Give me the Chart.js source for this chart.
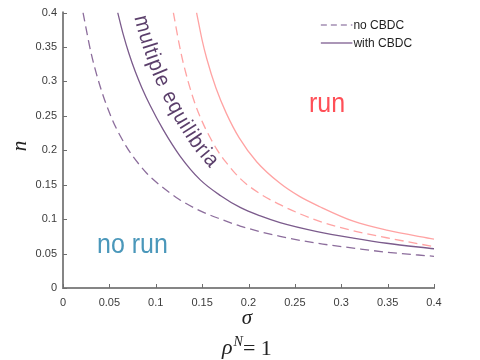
<!DOCTYPE html>
<html>
<head>
<meta charset="utf-8">
<script src="https://cdn.jsdelivr.net/npm/chart.js@4.4.1/dist/chart.umd.min.js"></script>
<style>
  html, body { margin: 0; padding: 0; background: #ffffff; }
  #wrap { position: relative; width: 480px; height: 360px; }
</style>
</head>
<body>
<div id="wrap"><canvas id="c" width="480" height="360"></canvas></div>
<script>
// ---- data ----
// purple dashed: boundary without CBDC (no run / multiple equilibria)
const lowNoCBDC_sigma = [0.0216, 0.030, 0.040, 0.053, 0.068, 0.075, 0.090, 0.103, 0.125, 0.148, 0.170, 0.191, 0.234, 0.274, 0.313, 0.349, 0.400];
const lowNoCBDC_n     = [0.400, 0.343, 0.293, 0.245, 0.206, 0.192, 0.167, 0.151, 0.129, 0.112, 0.100, 0.090, 0.075, 0.065, 0.058, 0.052, 0.046];
// purple solid: boundary with CBDC
const lowCBDC_sigma = [0.059, 0.065, 0.071, 0.078, 0.085, 0.094, 0.108, 0.126, 0.148, 0.170, 0.191, 0.212, 0.234, 0.274, 0.313, 0.349, 0.400];
const lowCBDC_n     = [0.400, 0.368, 0.341, 0.314, 0.291, 0.265, 0.230, 0.192, 0.157, 0.134, 0.117, 0.105, 0.095, 0.082, 0.0725, 0.065, 0.057];
// pink dashed: run boundary without CBDC
const highNoCBDC_sigma = [0.119, 0.125, 0.130, 0.141, 0.150, 0.158, 0.166, 0.175, 0.191, 0.210, 0.234, 0.255, 0.276, 0.313, 0.349, 0.400];
const highNoCBDC_n     = [0.400, 0.356, 0.325, 0.273, 0.242, 0.220, 0.201, 0.184, 0.159, 0.139, 0.121, 0.108, 0.097, 0.083, 0.073, 0.060];
// pink solid: run boundary with CBDC
const highCBDC_sigma = [0.144, 0.150, 0.155, 0.165, 0.176, 0.190, 0.209, 0.234, 0.255, 0.277, 0.313, 0.349, 0.400];
const highCBDC_n     = [0.400, 0.360, 0.333, 0.290, 0.254, 0.218, 0.183, 0.152, 0.133, 0.118, 0.097, 0.084, 0.071];

const xTickValues = [0, 0.05, 0.1, 0.15, 0.2, 0.25, 0.3, 0.35, 0.4];
const xTickLabels = ['0', '0.05', '0.1', '0.15', '0.2', '0.25', '0.3', '0.35', '0.4'];
const yTickValues = [0, 0.05, 0.1, 0.15, 0.2, 0.25, 0.3, 0.35, 0.4];
const yTickLabels = ['0', '0.05', '0.1', '0.15', '0.2', '0.25', '0.3', '0.35', '0.4'];

const legendLabels = ['no CBDC', 'with CBDC'];
const regionLabels = { run: 'run', noRun: 'no run', multiple: 'multiple equilibria' };
const xTitle = 'σ';
const yTitle = 'n';

function pts(xs, ys) { return xs.map((x, i) => ({ x: x, y: ys[i] })); }

const PURPLE = '#7b5b8c';
const PURPLE_D = '#8c6d9c';
const PINK = '#ffa3a3';
const AXIS = '#858585';

const overlay = {
  id: 'overlay',
  afterDraw(chart) {
    const ctx = chart.ctx;
    const xs = chart.scales.x, ys = chart.scales.y;
    const ca = chart.chartArea;
    ctx.save();
    // axes lines
    ctx.strokeStyle = AXIS;
    ctx.lineWidth = 2;
    ctx.beginPath();
    ctx.moveTo(ca.left, ca.top - 1);
    ctx.lineTo(ca.left, ca.bottom);
    ctx.lineTo(ca.right + 1, ca.bottom);
    ctx.stroke();
    // inward ticks
    ctx.lineWidth = 1;
    ctx.strokeStyle = '#6e6e6e';
    xTickValues.forEach(v => {
      const px = Math.round(xs.getPixelForValue(v)) + 0.5;
      ctx.beginPath(); ctx.moveTo(px, ca.bottom); ctx.lineTo(px, ca.bottom - 4); ctx.stroke();
    });
    yTickValues.forEach(v => {
      const py = Math.round(ys.getPixelForValue(v)) + 0.5;
      ctx.beginPath(); ctx.moveTo(ca.left, py); ctx.lineTo(ca.left + 4, py); ctx.stroke();
    });

    // legend (top right inside plot)
    const lx0 = xs.getPixelForValue(0.278), lx1 = xs.getPixelForValue(0.312);
    const ly = [25, 43];
    ctx.lineWidth = 1.3;
    ctx.strokeStyle = '#a48fb4';
    ctx.setLineDash([6, 4]);
    ctx.beginPath(); ctx.moveTo(lx0, ly[0]); ctx.lineTo(lx1, ly[0]); ctx.stroke();
    ctx.setLineDash([]);
    ctx.strokeStyle = '#8f739f';
    ctx.beginPath(); ctx.moveTo(lx0, ly[1]); ctx.lineTo(lx1, ly[1]); ctx.stroke();
    ctx.fillStyle = '#1e1e1e';
    ctx.font = '12px "Liberation Sans", Arial, sans-serif';
    ctx.textBaseline = 'middle';
    ctx.textAlign = 'left';
    ctx.fillText(legendLabels[0], lx1 + 1, ly[0] + 1);
    ctx.fillText(legendLabels[1], lx1 + 1, ly[1] + 1);

    // region labels
    ctx.textBaseline = 'alphabetic';
    ctx.font = '25px "Liberation Sans", Arial, sans-serif';
    ctx.fillStyle = '#ff4f57';
    ctx.save(); ctx.translate(309, 112); ctx.scale(1, 1.12); ctx.fillText(regionLabels.run, 0, 0); ctx.restore();
    ctx.fillStyle = '#4a97ba';
    ctx.save(); ctx.translate(97, 253); ctx.scale(1, 1.12); ctx.fillText(regionLabels.noRun, 0, 0); ctx.restore();

    // "multiple equilibria" along the with-CBDC curve
    const meta = chart.getDatasetMeta(1);
    const base = meta.data.map(p => ({ x: p.x, y: p.y }));
    const off = 15;
    const path = [];
    for (let i = 0; i < base.length; i++) {
      const a = base[Math.max(0, i - 1)], b = base[Math.min(base.length - 1, i + 1)];
      const dx = b.x - a.x, dy = b.y - a.y, L = Math.hypot(dx, dy);
      path.push({ x: base[i].x + off * dy / L, y: base[i].y - off * dx / L });
    }
    const d0x = path[1].x - path[0].x, d0y = path[1].y - path[0].y, l0 = Math.hypot(d0x, d0y);
    path.unshift({ x: path[0].x - 30 * d0x / l0, y: path[0].y - 30 * d0y / l0 });
    let acc = 0; path[0].s = 0;
    for (let i = 1; i < path.length; i++) { acc += Math.hypot(path[i].x - path[i-1].x, path[i].y - path[i-1].y); path[i].s = acc; }
    function at(s) {
      for (let i = 1; i < path.length; i++) {
        if (path[i].s >= s) {
          const a = path[i-1], b = path[i], t = (s - a.s) / (b.s - a.s);
          return { x: a.x + t * (b.x - a.x), y: a.y + t * (b.y - a.y) };
        }
      }
      return path[path.length - 1];
    }
    let s0 = 0;
    for (let s = 0; s < acc; s += 0.5) { if (at(s).y >= 17) { s0 = s; break; } }
    ctx.font = '20px "Liberation Sans", Arial, sans-serif';
    ctx.fillStyle = '#5b3f6b';
    ctx.textAlign = 'center';
    let s = s0;
    const spacing = 0.9;
    for (const ch of regionLabels.multiple) {
      const w = ctx.measureText(ch).width;
      const mid = s + w / 2;
      const p = at(mid), pa = at(mid - 6), pb = at(mid + 6);
      const ang = Math.atan2(pb.y - pa.y, pb.x - pa.x);
      ctx.save(); ctx.translate(p.x, p.y); ctx.rotate(ang); ctx.scale(1, 1.08); ctx.fillText(ch, 0, 0); ctx.restore();
      s += w + spacing;
    }

    // axis titles
    ctx.fillStyle = '#222222';
    ctx.textAlign = 'center';
    ctx.textBaseline = 'middle';
    ctx.font = 'italic 21px "Liberation Serif", "DejaVu Serif", serif';
    ctx.fillText(xTitle, 247, 318);
    ctx.save(); ctx.translate(20, 146); ctx.rotate(-Math.PI / 2); ctx.fillText(yTitle, 0, 0); ctx.restore();

    // bottom caption rho^N = 1
    ctx.textAlign = 'left';
    ctx.textBaseline = 'alphabetic';
    let cx = 222;
    ctx.font = 'italic 22px "Liberation Serif", "DejaVu Serif", serif';
    ctx.fillText('ρ', cx, 354); cx += ctx.measureText('ρ').width + 1;
    ctx.font = 'italic 14px "Liberation Serif", "DejaVu Serif", serif';
    ctx.fillText('N', cx, 346); cx += ctx.measureText('N').width;
    ctx.font = '22px "Liberation Serif", "DejaVu Serif", serif';
    ctx.fillText('= 1', cx, 355);
    ctx.restore();
  }
};

const common = { showLine: true, pointRadius: 0, borderWidth: 1.3, cubicInterpolationMode: 'monotone', fill: false };

new Chart(document.getElementById('c'), {
  type: 'scatter',
  data: {
    datasets: [
      Object.assign({ label: 'no CBDC', data: pts(lowNoCBDC_sigma, lowNoCBDC_n), borderColor: PURPLE_D, borderDash: [9, 5] }, common),
      Object.assign({ label: 'with CBDC', data: pts(lowCBDC_sigma, lowCBDC_n), borderColor: PURPLE }, common),
      Object.assign({ label: 'run no CBDC', data: pts(highNoCBDC_sigma, highNoCBDC_n), borderColor: PINK, borderDash: [9, 5] }, common),
      Object.assign({ label: 'run with CBDC', data: pts(highCBDC_sigma, highCBDC_n), borderColor: PINK }, common)
    ]
  },
  options: {
    responsive: false,
    animation: false,
    devicePixelRatio: 1,
    layout: { padding: { left: 0, right: 46, top: 6, bottom: 0 } },
    plugins: { legend: { display: false }, tooltip: { enabled: false }, title: { display: false } },
    scales: {
      x: {
        type: 'linear', min: 0, max: 0.4,
        afterBuildTicks: sc => { sc.ticks = xTickValues.map(v => ({ value: v })); },
        afterFit: sc => { sc.height = 72; },
        grid: { display: false, drawTicks: false },
        border: { display: false },
        ticks: {
          autoSkip: false, maxRotation: 0, padding: 8,
          color: '#3c3c3c', font: { family: '"Liberation Sans", Arial, sans-serif', size: 11 },
          callback: (v, i) => xTickLabels[i]
        }
      },
      y: {
        type: 'linear', min: 0, max: 0.4,
        afterBuildTicks: sc => { sc.ticks = yTickValues.map(v => ({ value: v })); },
        afterFit: sc => { sc.width = 63; },
        grid: { display: false, drawTicks: false },
        border: { display: false },
        ticks: {
          autoSkip: false, padding: 6,
          color: '#3c3c3c', font: { family: '"Liberation Sans", Arial, sans-serif', size: 11 },
          callback: (v, i) => yTickLabels[i]
        }
      }
    }
  },
  plugins: [overlay]
});
</script>
</body>
</html>
